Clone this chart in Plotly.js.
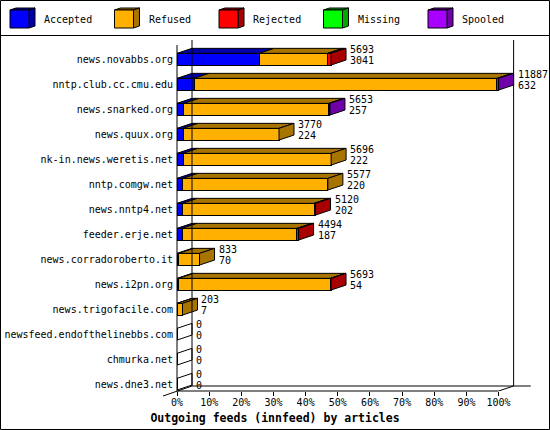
<!DOCTYPE html>
<html>
<head>
<meta charset="utf-8">
<script src="https://cdn.plot.ly/plotly-3.0.1.min.js"></script>
<style>body{margin:0;background:#fff}</style>
</head>
<body>
<div id="chart" style="width:550px;height:430px"></div>
<script>
const hosts = ['news.novabbs.org', 'nntp.club.cc.cmu.edu', 'news.snarked.org', 'news.quux.org',
	'nk-in.news.weretis.net', 'nntp.comgw.net', 'news.nntp4.net', 'feeder.erje.net',
	'news.corradoroberto.it', 'news.i2pn.org', 'news.trigofacile.com',
	'newsfeed.endofthelinebbs.com', 'chmurka.net', 'news.dne3.net'];
const totals   = [5693, 11887, 5653, 3770, 5696, 5577, 5120, 4494, 833, 5693, 203, 0, 0, 0];
const accepted = [3041, 632, 257, 224, 222, 220, 202, 187, 70, 54, 7, 0, 0, 0];
const refused  = [2527, 11195, 5356, 3546, 5474, 5357, 4868, 4247, 763, 5619, 196, 0, 0, 0];
const rejected = [125, 0, 0, 0, 0, 0, 50, 60, 0, 20, 0, 0, 0, 0];
const missing  = [0, 0, 0, 0, 0, 0, 0, 0, 0, 0, 0, 0, 0, 0];
const spooled  = [0, 60, 40, 0, 0, 0, 0, 0, 0, 0, 0, 0, 0, 0];
const tickPct = [0, 10, 20, 30, 40, 50, 60, 70, 80, 90, 100];

const names = ['Accepted', 'Refused', 'Rejected', 'Missing', 'Spooled'];
const colors = ['#0000ff', '#ffb000', '#ff0000', '#00ff00', '#a800ff'];
const shades = ['#0000a8', '#a87400', '#a80000', '#00a800', '#7000a8'];
const series = [accepted, refused, rejected, missing, spooled];

const FONT = 'DejaVu Sans Mono';
const maxTotal = Math.max(...totals);
const pct = v => v / maxTotal * 100;

// plot area (pixels) and the 3d depth
const L = 177, T = 40, W = 368, H = 351;
const PX_PCT = 3.216, PX_ROW = 25, ROW0 = 59.2;
const DX = 15 / PX_PCT, DY = 5 / PX_ROW, HALF = 0.234;
const px = v => (v - L) / W;
const py = v => (T + H - v) / H;
const rowAt = v => (v - ROW0) / PX_ROW;
const rows = hosts.map((h, i) => i);

const data = series.map((s, k) => ({
	type: 'bar', orientation: 'h', name: names[k],
	y: rows, x: s.map(pct), width: 2 * HALF,
	marker: {color: colors[k], line: {color: '#000', width: 1}},
	hoverinfo: 'skip', showlegend: false
}));

const black = {color: '#000', width: 1};
const shapes = [];
const annotations = [];

// top and side faces of every bar
rows.forEach(i => {
	const yt = i - HALF, yb = i + HALF;
	let x0 = 0, last = -1;
	series.forEach((s, k) => {
		if (s[i] <= 0) return;
		const x1 = x0 + pct(s[i]);
		shapes.push({type: 'path', xref: 'x', yref: 'y', line: black, fillcolor: shades[k],
			path: `M${x0},${yt}L${x1},${yt}L${x1 + DX},${yt - DY}L${x0 + DX},${yt - DY}Z`});
		x0 = x1; last = k;
	});
	shapes.push({type: 'path', xref: 'x', yref: 'y', line: black,
		fillcolor: last < 0 ? 'rgba(0,0,0,0)' : shades[last],
		path: `M${x0},${yt}L${x0 + DX},${yt - DY}L${x0 + DX},${yb - DY}L${x0},${yb}Z`});

	const xe = pct(totals[i]) + DX;
	[[totals[i], 5.5], [accepted[i], -5.5]].forEach(([v, sh]) => annotations.push({
		x: xe, y: i - 0.15, xref: 'x', yref: 'y', text: String(v), showarrow: false,
		xanchor: 'left', yanchor: 'middle', xshift: 3, yshift: sh, borderpad: 0,
		font: {family: FONT, size: 10, color: '#000'}
	}));
});

// walls and floor
const yFloor = rowAt(T + H), yTop = rowAt(T);
shapes.push(
	{type: 'line', xref: 'paper', yref: 'y', x0: 0, x1: 0, y0: rowAt(45), y1: yFloor, line: black},
	{type: 'line', xref: 'x', yref: 'y', x0: DX, x1: DX, y0: yTop, y1: yFloor - DY, line: black},
	{type: 'line', xref: 'x', yref: 'y', x0: 100 + DX, x1: 100 + DX, y0: yTop, y1: yFloor - DY, line: black},
	{type: 'line', xref: 'x', yref: 'paper', x0: 0, x1: 100, y0: 0, y1: 0, line: black},
	{type: 'line', xref: 'x', yref: 'y', x0: DX, x1: 110, y0: yFloor - DY, y1: yFloor - DY, line: black},
	{type: 'line', xref: 'x', yref: 'y', x0: 100, x1: 100 + DX, y0: yFloor, y1: yFloor - DY, line: black},
	{type: 'line', xref: 'paper', yref: 'paper', x0: px(163), x1: px(L + 15), y0: py(396), y1: py(T + H - 5), line: black}
);

// legend boxes
names.forEach((n, k) => {
	const bx = 10 + 104.5 * k;
	shapes.push(
		{type: 'path', xref: 'paper', yref: 'paper', line: black, fillcolor: shades[k],
			path: `M${px(bx)},${py(10)}L${px(bx + 19)},${py(10)}L${px(bx + 25)},${py(8)}L${px(bx + 6)},${py(8)}Z`},
		{type: 'path', xref: 'paper', yref: 'paper', line: black, fillcolor: shades[k],
			path: `M${px(bx + 19)},${py(10)}L${px(bx + 25)},${py(8)}L${px(bx + 25)},${py(26)}L${px(bx + 19)},${py(28)}Z`},
		{type: 'rect', xref: 'paper', yref: 'paper', line: black, fillcolor: colors[k],
			x0: px(bx), x1: px(bx + 19), y0: py(10), y1: py(28)}
	);
	annotations.push({xref: 'paper', yref: 'paper', x: px(bx + 33), y: py(19.5), text: n,
		showarrow: false, xanchor: 'left', yanchor: 'middle', borderpad: 0,
		font: {family: FONT, size: 10, color: '#000'}});
});

// frame and legend separator
shapes.push(
	{type: 'rect', xref: 'paper', yref: 'paper', x0: px(0.5), x1: px(549.5), y0: py(0.5), y1: py(429.5), line: black},
	{type: 'line', xref: 'paper', yref: 'paper', x0: px(0), x1: px(550), y0: py(35.5), y1: py(35.5), line: black}
);

const layout = {
	width: 550, height: 430,
	margin: {l: L, r: 550 - L - W, t: T, b: 430 - T - H, pad: 0},
	paper_bgcolor: '#fff', plot_bgcolor: '#fff',
	barmode: 'stack', showlegend: false,
	font: {family: FONT, size: 10, color: '#000'},
	title: {text: 'Outgoing feeds (innfeed) by articles', xref: 'container', yref: 'container',
		x: 0.5, y: 12.5 / 430, yanchor: 'middle', font: {family: FONT, size: 11.5, weight: 'bold', color: '#000'}},
	xaxis: {range: [0, W / PX_PCT], tickvals: tickPct, ticktext: tickPct.map(v => v + '%'),
		ticks: 'outside', ticklen: 4, tickcolor: '#000', showline: false, showgrid: false, zeroline: false,
		ticklabelstandoff: -2,
		tickfont: {family: FONT, size: 10, color: '#000'}, fixedrange: true},
	yaxis: {range: [yFloor, yTop], tickvals: rows, ticktext: hosts, ticks: '',
		showline: false, showgrid: false, zeroline: false, ticklabelstandoff: 3,
		tickfont: {family: FONT, size: 10, color: '#000'}, fixedrange: true},
	shapes: shapes, annotations: annotations
};

Plotly.newPlot('chart', data, layout, {staticPlot: true});
</script>
</body>
</html>
